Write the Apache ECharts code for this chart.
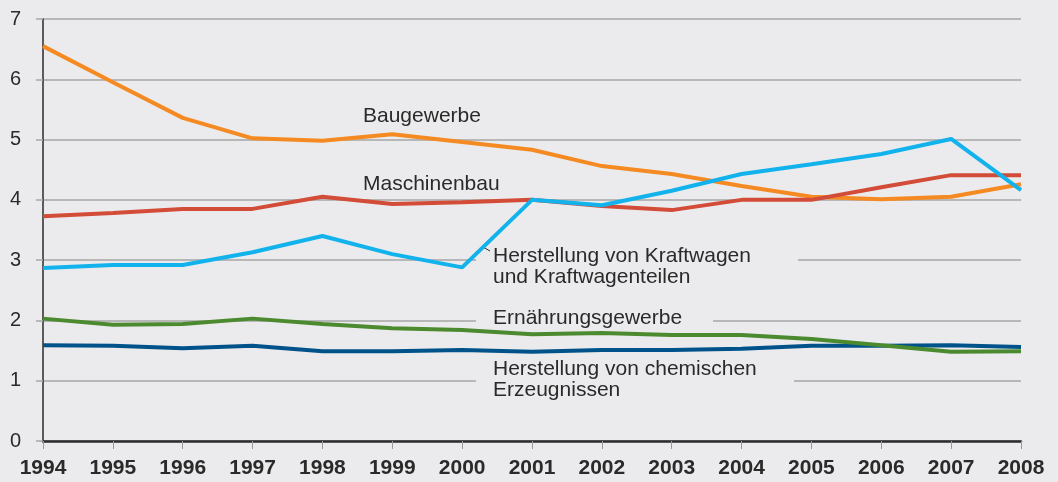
<!DOCTYPE html>
<html>
<head>
<meta charset="utf-8">
<script src="https://cdn.jsdelivr.net/npm/echarts@6/dist/echarts.min.js"></script>
<style>
  html, body { margin: 0; padding: 0; background: #ebebed; }
  #chart { width: 1058px; height: 482px; }
</style>
</head>
<body>
<div id="chart"></div>
<script>
// Jahre
var years = ['1994', '1995', '1996', '1997', '1998', '1999', '2000', '2001',
  '2002', '2003', '2004', '2005', '2006', '2007', '2008'];

// Werte
var baugewerbe = [6.55, 5.95, 5.36, 5.02, 4.98, 5.09, 4.96, 4.83, 4.56, 4.43, 4.23, 4.05, 4.01, 4.05, 4.26];
var maschinenbau = [3.73, 3.78, 3.85, 3.85, 4.05, 3.93, 3.96, 4.0, 3.9, 3.83, 4.0, 4.0, 4.21, 4.41, 4.41];
var kraftwagen = [2.87, 2.92, 2.92, 3.13, 3.40, 3.10, 2.88, 4.0, 3.91, 4.15, 4.43, 4.59, 4.76, 5.01, 4.16];
var ernaehrung = [2.03, 1.93, 1.94, 2.03, 1.94, 1.87, 1.84, 1.77, 1.79, 1.76, 1.76, 1.69, 1.59, 1.48, 1.49];
var chemie = [1.59, 1.58, 1.54, 1.58, 1.49, 1.49, 1.51, 1.48, 1.51, 1.51, 1.53, 1.58, 1.58, 1.59, 1.56];

var bg = '#ebebed';
var txtFont = '"Liberation Sans", Arial, sans-serif';

function mkLine(name, data, color) {
  return {
    name: name,
    type: 'line',
    data: data,
    symbol: 'none',
    z: 3,
    lineStyle: { color: color, width: 4 },
    itemStyle: { color: color }
  };
}

function label(x, y, text) {
  return {
    type: 'text',
    left: x,
    top: y,
    z: 2,
    style: {
      text: text,
      font: '21px ' + txtFont,
      fill: '#2a2a2a',
      lineHeight: 20.5
    }
  };
}

// verdeckt die Gitterlinien hinter den Beschriftungen
function cover(x, y, w, h) {
  return {
    type: 'rect',
    shape: { x: x, y: y, width: w, height: h },
    z: 1,
    style: { fill: bg }
  };
}

var chart = echarts.init(document.getElementById('chart'));

var option = {
  backgroundColor: bg,
  animation: false,
  grid: { left: 43, right: 37, top: 19, bottom: 41 },
  xAxis: {
    type: 'category',
    data: years,
    boundaryGap: false,
    axisLine: { lineStyle: { color: '#2b2b2b', width: 2.5 } },
    axisTick: { show: true, length: 8, lineStyle: { color: '#9a9a9a', width: 1 } },
    axisLabel: {
      color: '#2a2a2a',
      fontSize: 21,
      fontWeight: 'bold',
      fontFamily: txtFont,
      margin: 17
    },
    splitLine: { show: false }
  },
  yAxis: {
    type: 'value',
    min: 0,
    max: 7,
    interval: 1,
    axisLine: { show: true, lineStyle: { color: '#2b2b2b', width: 1.5 } },
    axisTick: { show: true, length: 7, lineStyle: { color: '#a6a6a6', width: 1.5 } },
    axisLabel: {
      color: '#2a2a2a',
      fontSize: 20,
      fontFamily: txtFont,
      margin: 22
    },
    splitLine: { show: true, lineStyle: { color: '#a6a6a6', width: 1.5 } }
  },
  graphic: [
    cover(476, 240, 322, 48),
    cover(476, 306, 237, 26),
    cover(476, 356, 318, 46),
    label(363, 106, 'Baugewerbe'),
    label(363, 174, 'Maschinenbau'),
    label(493, 246, 'Herstellung von Kraftwagen\nund Kraftwagenteilen'),
    label(493, 308, 'Ernährungsgewerbe'),
    label(493, 359, 'Herstellung von chemischen\nErzeugnissen'),
    {
      type: 'line',
      z: 2,
      shape: { x1: 483, y1: 247, x2: 490, y2: 251 },
      style: { stroke: '#2a2a2a', lineWidth: 1 }
    }
  ],
  series: [
    mkLine('Herstellung von chemischen Erzeugnissen', chemie, '#00538a'),
    mkLine('Ernährungsgewerbe', ernaehrung, '#4c8a2f'),
    mkLine('Baugewerbe', baugewerbe, '#f58a22'),
    mkLine('Maschinenbau', maschinenbau, '#d24c37'),
    mkLine('Herstellung von Kraftwagen und Kraftwagenteilen', kraftwagen, '#12b3ec')
  ]
};

chart.setOption(option);
</script>
</body>
</html>
